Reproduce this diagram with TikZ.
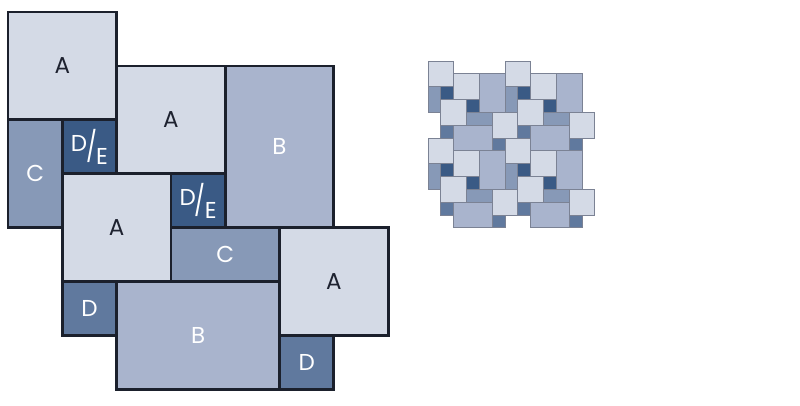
\documentclass[tikz,border=0pt]{standalone}
\usepackage{fontspec}
\setmainfont{Poppins}
\usetikzlibrary{calc}

\definecolor{tileA}{HTML}{D4DAE6}
\definecolor{tileB}{HTML}{A9B4CD}
\definecolor{tileC}{HTML}{8799B7}
\definecolor{tileD}{HTML}{60799E}
\definecolor{tileE}{HTML}{3A5A85}
\definecolor{outline}{HTML}{1B202C}
\definecolor{thinline}{HTML}{7B8294}
\definecolor{darktext}{HTML}{1E2230}

\tikzset{
	lbl/.style={font=\fontsize{23}{27}\selectfont, inner sep=0pt},
	lbldark/.style={lbl, text=darktext},
	lbllight/.style={lbl, text=white},
	bigtile/.style={draw=outline, line width=2.8pt, line join=miter},
	smalltile/.style={draw=thinline, line width=0.9pt}
}
\newcommand{\slashlabel}{\raisebox{6pt}{D}\kern-1pt\scalebox{1}[1.3]{/}\kern-1pt\raisebox{-7pt}{E}}

\begin{document}
\begin{tikzpicture}[x=1pt,y=-1pt]
\useasboundingbox (0,0) rectangle (800,405);
\fill[white] (0,0) rectangle (800,405);

% large layout with labels
\begin{scope}[shift={(8,12)}, x=54.3pt, y=-53.9pt]
	\draw[bigtile, fill=tileA] (0,0) rectangle (2,2) node[midway, lbldark] (a1) {A};
	\draw[bigtile, fill=tileC] (0,2) rectangle (1,4) node[midway, lbllight] (c1) {C};
	\draw[bigtile, fill=tileE] (1,2) rectangle (2,3) node[midway, lbllight] (de1) {\slashlabel};
	\draw[bigtile, fill=tileA] (2,1) rectangle (4,3) node[midway, lbldark] (a2) {A};
	\draw[bigtile, fill=tileB] (4,1) rectangle (6,4) node[midway, lbllight] (b1) {B};
	\draw[bigtile, fill=tileA] (1,3) rectangle (3,5) node[midway, lbldark] (a3) {A};
	\draw[bigtile, fill=tileE] (3,3) rectangle (4,4) node[midway, lbllight] (de2) {\slashlabel};
	\draw[bigtile, fill=tileC] (3,4) rectangle (5,5) node[midway, lbllight] (c2) {C};
	\draw[bigtile, fill=tileA] (5,4) rectangle (7,6) node[midway, lbldark] (a4) {A};
	\draw[bigtile, fill=tileD] (1,5) rectangle (2,6) node[midway, lbllight] (d1) {D};
	\draw[bigtile, fill=tileB] (2,5) rectangle (5,7) node[midway, lbllight] (b2) {B};
	\draw[bigtile, fill=tileD] (5,6) rectangle (6,7) node[midway, lbllight] (d2) {D};
\end{scope}

% small repeat of the same layout
\begin{scope}[shift={(428,61)}, x=12.83pt, y=-12.83pt]
	\foreach \i in {0,1}{
		\foreach \j in {0,1}{
			\begin{scope}[shift={(6*\i,6*\j)}]
				\foreach \x/\y/\w/\h/\c in {0/0/2/2/tileA, 0/2/1/2/tileC, 1/2/1/1/tileE,
						2/1/2/2/tileA, 4/1/2/3/tileB, 1/3/2/2/tileA, 3/3/1/1/tileE,
						3/4/2/1/tileC, 5/4/2/2/tileA, 1/5/1/1/tileD, 2/5/3/2/tileB, 5/6/1/1/tileD}
					\draw[smalltile, fill=\c] (\x,\y) rectangle ++(\w,\h);
			\end{scope}
		}
	}
\end{scope}
\end{tikzpicture}
\end{document}
